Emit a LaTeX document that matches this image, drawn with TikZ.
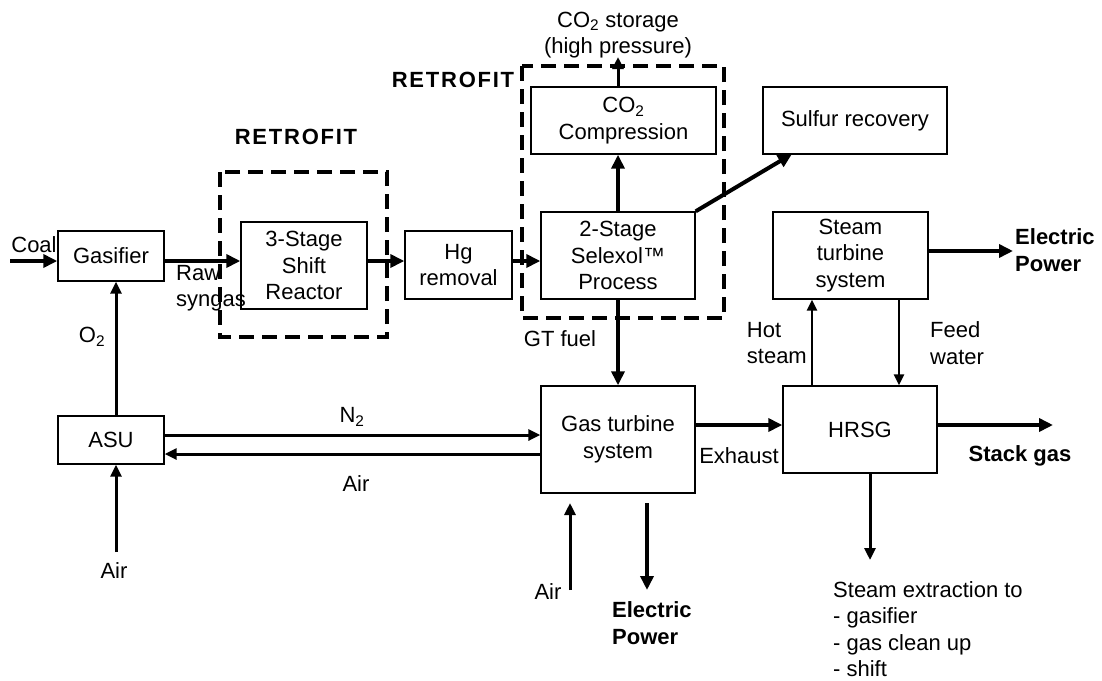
\documentclass[tikz,border=0pt]{standalone}
\usepackage{fontspec}
\setmainfont{Liberation Sans}
\usetikzlibrary{arrows.meta}
\begin{document}
\begin{tikzpicture}[x=1pt,y=-1pt,
  every node/.style={font=\fontsize{22}{26.5}\selectfont, inner sep=0pt, align=center},
  box/.style={draw, line width=1.4pt},
  thk/.style={line width=4pt, -{Triangle[length=14pt,width=13pt]}},
  med/.style={line width=3pt, -{Triangle[length=12pt,width=11pt]}},
  thn/.style={line width=2.4pt, -{Triangle[length=11pt,width=10pt]}},
  dbox/.style={line width=4.5pt, dash pattern=on 15pt off 8pt},
  bl/.style={font=\fontsize{22}{26.5}\selectfont\bfseries},
  rf/.style={font=\fontsize{22}{26.5}\selectfont\bfseries\addfontfeatures{LetterSpace=8}}]
\useasboundingbox (0,0) rectangle (1102,680);

% boxes
\node[box, minimum width=106pt, minimum height=50pt] (gas) at (111,256) {Gasifier};
\node[box, minimum width=126pt, minimum height=87pt] (shift) at (304,265.5) {3-Stage\\Shift\\Reactor};
\node[box, minimum width=107pt, minimum height=68pt] (hg) at (458.5,265) {Hg\\removal};
\node[box, minimum width=154pt, minimum height=87pt] (sel) at (618,255.5) {2-Stage\\Selexol™\\Process};
\node[box, minimum width=185pt, minimum height=67pt] (co2) at (623.5,120.5) {CO\textsubscript{2}\\Compression};
\node[box, minimum width=184pt, minimum height=67pt] (sulf) at (855,120.5) {Sulfur recovery};
\node[box, minimum width=155pt, minimum height=87pt] (st) at (850.5,255.5) {Steam\\turbine\\system};
\node[box, minimum width=106pt, minimum height=48pt] (asu) at (111,440) {ASU};
\node[box, minimum width=154pt, minimum height=107pt] (gt) at (618,439.5) {Gas turbine\\system};
\node[box, minimum width=154pt, minimum height=87pt] (hrsg) at (860,429.5) {HRSG};

% dashed retrofit boxes
\draw[dbox] (220,172) rectangle (387,337);
\draw[dbox] (522,66) rectangle (724,318);
\node[rf] (rf1) at (296,137) {RETROFIT};
\node[rf] (rf2) at (453,80) {RETROFIT};

% helper coordinates
\coordinate (coal) at (10,261);
\coordinate (co2out) at (618,57);
\coordinate (sulfin) at (792,154);
\coordinate (ep1) at (1013,251);
\coordinate (hs) at (812,0);
\coordinate (fw) at (899,0);
\coordinate (o2x) at (116,0);
\coordinate (asuair) at (116,552);
\coordinate (n2) at (0,435);
\coordinate (airret) at (0,454);
\coordinate (exh) at (0,425);
\coordinate (stack) at (1053,425);
\coordinate (gtairs) at (570,590);
\coordinate (gtaire) at (570,503);
\coordinate (gteps) at (647,503);
\coordinate (gtepe) at (647,590);
\coordinate (extr) at (870,560);

% connectors
\draw[thk] (coal) -- (coal -| gas.west);
\draw[thk] (gas.east |- coal) -- (shift.west |- coal);
\draw[thk] (shift.east |- coal) -- (hg.west |- coal);
\draw[thk] (hg.east |- coal) -- (sel.west |- coal);
\draw[thk] (sel.north) -- (sel.north |- co2.south);
\draw[med] (co2out |- co2.north) -- (co2out);
\draw[thk] (sel.north east) -- (sulfin);
\draw[thk] (ep1 -| st.east) -- (ep1);
\draw[thn] (hs |- hrsg.north) -- (hs |- st.south);
\draw[thn] (fw |- st.south) -- (fw |- hrsg.north);
\draw[thk] (sel.south) -- (gt.north);
\draw[med] (o2x |- asu.north) -- (o2x |- gas.south);
\draw[med] (asuair) -- (asuair |- asu.south);
\draw[med] (n2 -| asu.east) -- (n2 -| gt.west);
\draw[med] (airret -| gt.west) -- (airret -| asu.east);
\draw[thk] (exh -| gt.east) -- (exh -| hrsg.west);
\draw[thk] (stack -| hrsg.east) -- (stack);
\draw[med] (gtairs) -- (gtaire);
\draw[thk] (gteps) -- (gtepe);
\draw[med] (extr |- hrsg.south) -- (extr);

% labels
\node (lcoal) at (34,245) {Coal};
\node[align=left, anchor=west] (lraw) at (176,288) {Raw\\syngas};
\node (lstore) at (618,35) {CO\textsubscript{2} storage\\(high pressure)};
\node (lgtf) at (560,339) {GT fuel};
\node[bl, align=left, anchor=west] (lep1) at (1015,250) {Electric\\Power};
\node[align=left, anchor=east] (lhs) at (807,343) {Hot\\steam};
\node[align=left, anchor=west] (lfw) at (930,343) {Feed\\water};
\node (lo2) at (92,337) {O\textsubscript{2}};
\node (lair1) at (114,571) {Air};
\node (ln2) at (352,417) {N\textsubscript{2}};
\node (lair2) at (356,484) {Air};
\node (lexh) at (739,456) {Exhaust};
\node[bl] (lstack) at (1020,456) {Stack gas};
\node (lair3) at (548,592) {Air};
\node[bl, align=left, anchor=west] (lep2) at (612,623) {Electric\\Power};
\node[align=left, anchor=west] (lext) at (833,629) {Steam extraction to\\- gasifier\\- gas clean up\\- shift};
\end{tikzpicture}
\end{document}
